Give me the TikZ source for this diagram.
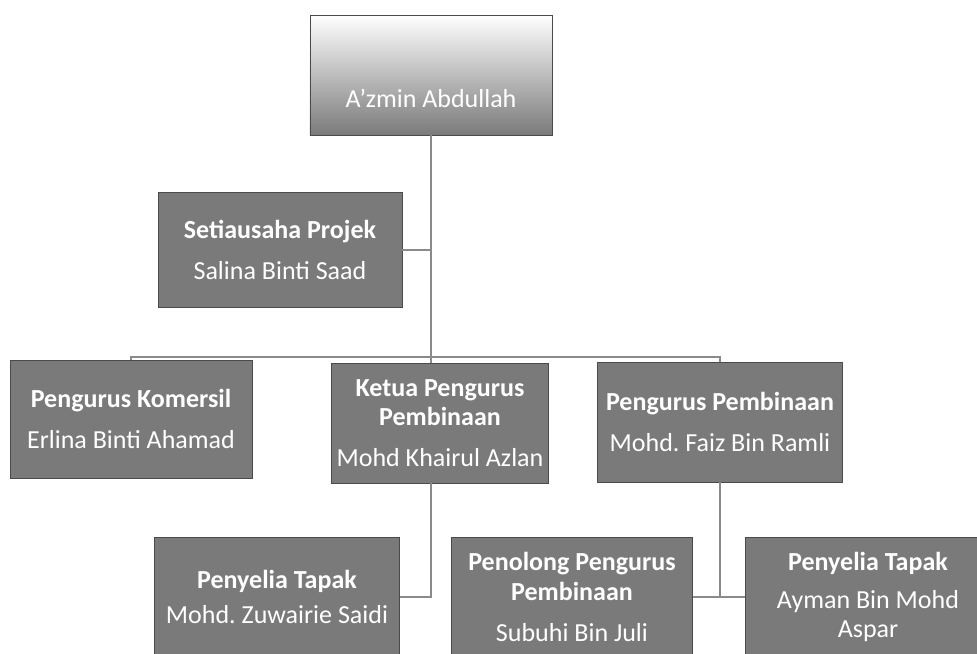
\documentclass[tikz,border=0pt]{standalone}
\usepackage{fontspec}
\setmainfont{Carlito}
\frenchspacing
\usetikzlibrary{positioning}
\definecolor{boxgray}{HTML}{7A7A7A}
\definecolor{edgegray}{HTML}{4A4A4A}
\definecolor{linkgray}{HTML}{8A8A8A}
\tikzset{
  post/.style={draw=edgegray, fill=boxgray, text=white, align=center,
    minimum width=#1, minimum height=3cm, inner sep=2pt, line width=0.6pt,
    font=\fontsize{18.5}{21}\selectfont},
  headpost/.style={post=#1, top color=white, bottom color=boxgray},
  link/.style={draw=linkgray, line width=0.8pt}
}
\begin{document}
\begin{tikzpicture}[x=0.025cm, y=-0.025cm]
\useasboundingbox (0,0) rectangle (977,653);
\clip (0,0) rectangle (977,653);
% top of the chart
\node[headpost=6.05cm] (boss) at (431,75) {\strut\\[10pt]A'zmin Abdullah};
\node[post=6.1cm, minimum height=2.875cm] (setia) at (280,250)
  {\textbf{Setiausaha Projek}\\[8pt]Salina Binti Saad};
% second row
\node[post=6.05cm, minimum height=2.95cm] (komersil) at (131,419)
  {\textbf{Pengurus Komersil}\\[8pt]Erlina Binti Ahamad};
\node[post=5.43cm] (ketua) at (440,423)
  {\textbf{Ketua Pengurus}\\\textbf{Pembinaan}\\[8pt]Mohd Khairul Azlan};
\node[post=6.125cm] (binaan) at (720,422)
  {\textbf{Pengurus Pembinaan}\\[8pt]Mohd. Faiz Bin Ramli};
% third row
\node[post=6.125cm] (tapakA) at (277,597)
  {\textbf{Penyelia Tapak}\\[4pt]Mohd. Zuwairie Saidi};
\node[post=6.025cm] (penolong) at (572,597)
  {\textbf{Penolong Pengurus}\\\textbf{Pembinaan}\\[8pt]Subuhi Bin Juli};
\node[post=6.125cm] (tapakB) at (868,597)
  {\textbf{Penyelia Tapak}\\[6pt]Ayman Bin Mohd\\Aspar};
% connectors
\coordinate (bus) at (430,357);
\draw[link] (boss.south) -- (boss.south |- ketua.north);
\draw[link] (setia.east) -- (setia.east -| boss.south);
\draw[link] (komersil.north) |- (bus) -| (binaan.north);
\draw[link] (ketua.south -| boss.south) |- (tapakA.east);
\draw[link] (penolong.east) -- (tapakB.west);
\draw[link] (binaan.south) -- (binaan.south |- tapakB.west);
\end{tikzpicture}
\end{document}
